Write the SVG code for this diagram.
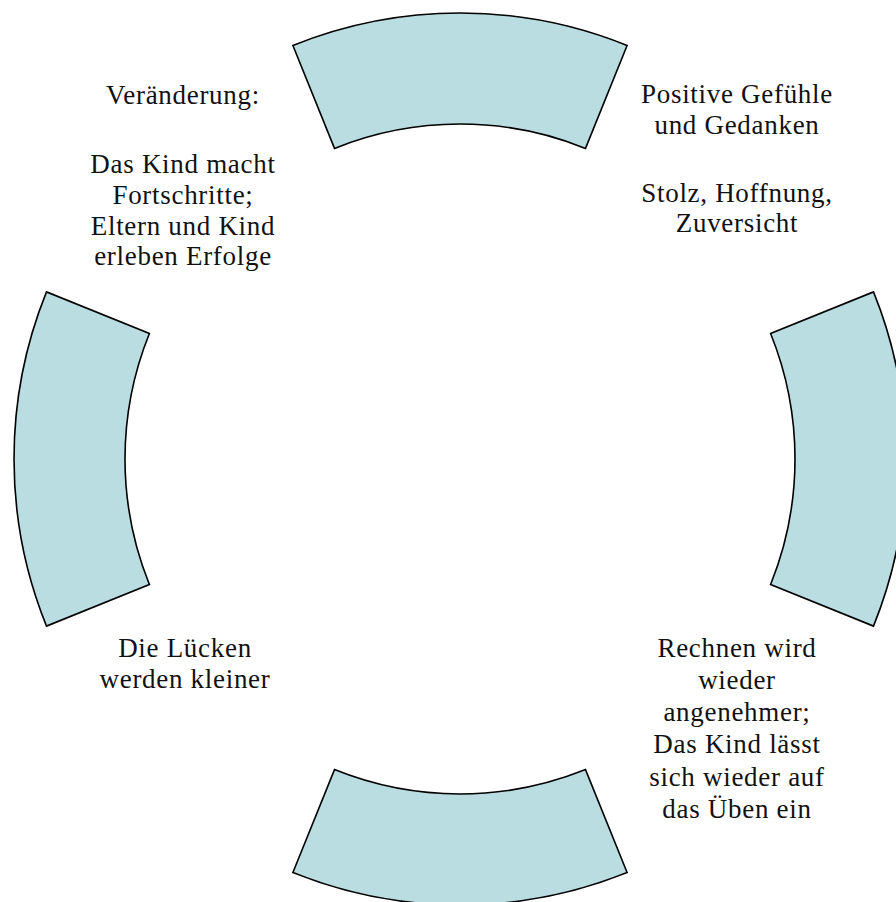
<svg xmlns="http://www.w3.org/2000/svg" width="896" height="902" viewBox="0 0 896 902">
<style>
.seg{fill:#b9dde1;stroke:#000;stroke-width:1.6;stroke-linejoin:miter}
.t{font-family:"Liberation Serif","Times New Roman",serif;font-size:27px;letter-spacing:0.7px;fill:#111;text-anchor:middle}
</style>
<rect width="896" height="902" fill="#fff"/>
<g id="seg-top"><path class="seg" d="M292.9,45.5 A446,446 0 0 1 627.1,45.5 L585.5,148.4 A335,335 0 0 0 334.5,148.4 Z"/></g>
<g id="seg-right"><path class="seg" d="M873.5,291.9 A446,446 0 0 1 873.5,626.1 L770.6,584.5 A335,335 0 0 0 770.6,333.5 Z"/></g>
<g id="seg-bottom"><path class="seg" d="M627.1,872.5 A446,446 0 0 1 292.9,872.5 L334.5,769.6 A335,335 0 0 0 585.5,769.6 Z"/></g>
<g id="seg-left"><path class="seg" d="M46.5,626.1 A446,446 0 0 1 46.5,291.9 L149.4,333.5 A335,335 0 0 0 149.4,584.5 Z"/></g>
<g id="label-top-right">
<text class="t" x="737" y="103">Positive Gefühle</text>
<text class="t" x="737" y="134">und Gedanken</text>
<text class="t" x="737" y="202">Stolz, Hoffnung,</text>
<text class="t" x="737" y="232">Zuversicht</text>
</g>
<g id="label-top-left">
<text class="t" x="183" y="104">Veränderung:</text>
<text class="t" x="183" y="173">Das Kind macht</text>
<text class="t" x="183" y="204">Fortschritte;</text>
<text class="t" x="183" y="235">Eltern und Kind</text>
<text class="t" x="183" y="265">erleben Erfolge</text>
</g>
<g id="label-bottom-left">
<text class="t" x="185" y="657">Die Lücken</text>
<text class="t" x="185" y="688">werden kleiner</text>
</g>
<g id="label-bottom-right">
<text class="t" x="737" y="657">Rechnen wird</text>
<text class="t" x="737" y="689">wieder</text>
<text class="t" x="737" y="721">angenehmer;</text>
<text class="t" x="737" y="753">Das Kind lässt</text>
<text class="t" x="737" y="786">sich wieder auf</text>
<text class="t" x="737" y="818">das Üben ein</text>
</g>
</svg>
